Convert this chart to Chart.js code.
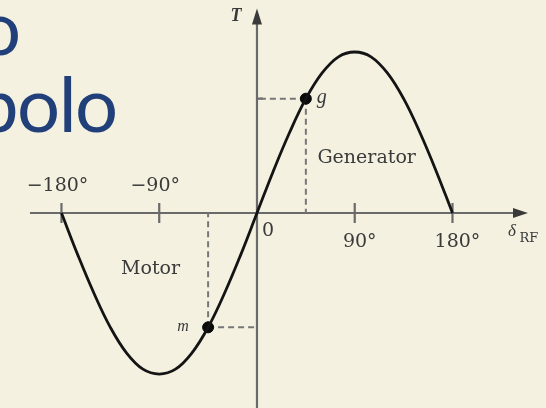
<!DOCTYPE html>
<html>
<head>
<meta charset="utf-8">
<script src="https://cdn.jsdelivr.net/npm/chart.js@4/dist/chart.umd.min.js"></script>
<style>
  html, body { margin: 0; padding: 0; background: #f4f1e1; }
  #wrap { width: 546px; height: 408px; }
</style>
</head>
<body>
<div id="wrap"><canvas id="myChart" width="546" height="408"></canvas></div>
<script>
// torque-angle curve, delta in degrees, torque normalised to the peak
const deltaDeg = [-180, -165, -150, -135, -120, -105, -90, -75, -60, -45, -30, -15, 0,
                  15, 30, 45, 60, 75, 90, 105, 120, 135, 150, 165, 180];
const torque = [0, -0.26, -0.5, -0.71, -0.87, -0.97, -1.0, -0.97, -0.87, -0.71, -0.5, -0.26, 0,
                0.26, 0.5, 0.71, 0.87, 0.97, 1.0, 0.97, 0.87, 0.71, 0.5, 0.26, 0];

// operating points (generator / motor)
const opDelta = [45, -45];
const opTorque = [0.71, -0.71];
const opNames = ['g', 'm'];

const tickDeg = [-180, -90, 0, 90, 180];
const tickLabels = ['\u2212180\u00b0', '\u221290\u00b0', '0', '90\u00b0', '180\u00b0'];
const regionNames = ['Generator', 'Motor'];
const headingLines = ['o', 'bolo'];

const figColor = '#6a6a6a';
const textColor = '#3a3a3a';
const serif = '"DejaVu Serif", "Liberation Serif", serif';
const italicSerif = '"Liberation Serif", serif';

const figurePlugin = {
    id: 'figure',
    beforeDraw(chart) {
        const { ctx, width, height } = chart;
        ctx.save();
        ctx.fillStyle = '#f4f1e1';
        ctx.fillRect(0, 0, width, height);
        // slide heading cut by the left edge
        ctx.fillStyle = '#213f79';
        ctx.font = '76px Lato';
        ctx.textBaseline = 'alphabetic';
        ctx.fillText(headingLines[0], -22, 55);
        ctx.letterSpacing = '-1.5px';
        ctx.fillText(headingLines[1], -24, 132);
        ctx.letterSpacing = '0px';
        ctx.restore();
        // the scanned figure is a little soft
        ctx.filter = 'blur(0.6px)';
    },
    beforeDatasetsDraw(chart) {
        const { ctx, scales: { x, y } } = chart;
        const x0 = x.getPixelForValue(0);
        const y0 = y.getPixelForValue(0);
        ctx.save();
        ctx.strokeStyle = figColor;
        ctx.fillStyle = '#3a3a3a';
        ctx.lineWidth = 2.2;

        // axes
        const xEnd = x.getPixelForValue(249.5);
        ctx.beginPath();
        ctx.moveTo(x.getPixelForValue(-209), y0);
        ctx.lineTo(xEnd - 6, y0);
        ctx.moveTo(x0, y.getPixelForValue(-1.4));
        ctx.lineTo(x0, y.getPixelForValue(1.27) + 8);
        ctx.stroke();
        ctx.beginPath();
        ctx.moveTo(xEnd, y0);
        ctx.lineTo(xEnd - 15, y0 - 5);
        ctx.lineTo(xEnd - 15, y0 + 5);
        ctx.closePath();
        ctx.fill();
        const yTop = y.getPixelForValue(1.27);
        ctx.beginPath();
        ctx.moveTo(x0, yTop);
        ctx.lineTo(x0 - 5, yTop + 16);
        ctx.lineTo(x0 + 5, yTop + 16);
        ctx.closePath();
        ctx.fill();

        // tick marks
        ctx.beginPath();
        tickDeg.forEach(d => {
            if (d === 0) return;
            const px = x.getPixelForValue(d);
            ctx.moveTo(px, y0 - 10);
            ctx.lineTo(px, y0 + 10);
        });
        const gy = y.getPixelForValue(opTorque[0]);
        ctx.moveTo(x0, gy);
        ctx.lineTo(x0 + 6, gy);
        ctx.stroke();

        // dashed guides from the operating points to the axes
        ctx.setLineDash([6, 4]);
        ctx.strokeStyle = '#777';
        ctx.lineWidth = 2;
        opDelta.forEach((d, i) => {
            const px = x.getPixelForValue(d);
            const py = y.getPixelForValue(opTorque[i]);
            ctx.beginPath();
            ctx.moveTo(px, py);
            ctx.lineTo(px, y0);
            ctx.moveTo(px, py);
            ctx.lineTo(x0, py);
            ctx.stroke();
        });
        ctx.setLineDash([]);
        ctx.restore();
    },
    afterDatasetsDraw(chart) {
        const { ctx, scales: { x, y } } = chart;
        const x0 = x.getPixelForValue(0);
        const y0 = y.getPixelForValue(0);
        ctx.save();
        ctx.fillStyle = textColor;
        ctx.textAlign = 'center';
        ctx.textBaseline = 'middle';

        ctx.font = '19px ' + serif;
        tickDeg.forEach((d, i) => {
            const px = x.getPixelForValue(d);
            if (d < 0) ctx.fillText(tickLabels[i], px - 4, y0 - 27);
            else if (d > 0) ctx.fillText(tickLabels[i], px + 5, y0 + 29);
            else ctx.fillText(tickLabels[i], px + 11, y0 + 18);
        });

        // axis names
        ctx.font = 'italic bold 18px ' + italicSerif;
        ctx.fillText('T', x0 - 21, y.getPixelForValue(1.27) + 8);
        ctx.font = 'italic 17px ' + italicSerif;
        const tipX = x.getPixelForValue(249.5);
        ctx.fillText('\u03b4', tipX - 16, y0 + 19);
        ctx.font = '13px ' + serif;
        ctx.fillText('RF', tipX + 1, y0 + 26);

        // region names
        ctx.font = '19px ' + serif;
        ctx.fillText(regionNames[0], x.getPixelForValue(101), y.getPixelForValue(0.34));
        ctx.fillText(regionNames[1], x.getPixelForValue(-98), y.getPixelForValue(-0.35));

        // operating point names
        ctx.font = 'italic 20px ' + italicSerif;
        ctx.fillText(opNames[0], x.getPixelForValue(opDelta[0]) + 16, y.getPixelForValue(opTorque[0]) - 1);
        ctx.font = 'italic 16px ' + italicSerif;
        ctx.fillText(opNames[1], x.getPixelForValue(opDelta[1]) - 25, y.getPixelForValue(opTorque[1]) - 1);
        ctx.restore();
    },
    afterDraw(chart) {
        chart.ctx.filter = 'none';
    }
};

const ctx = document.getElementById('myChart').getContext('2d');
const chart = new Chart(ctx, {
    type: 'scatter',
    data: {
        datasets: [{
            data: deltaDeg.map((d, i) => ({ x: d, y: torque[i] })),
            showLine: true,
            borderColor: '#141414',
            borderWidth: 2.8,
            pointRadius: 0,
            tension: 0.4
        }, {
            data: opDelta.map((d, i) => ({ x: d, y: opTorque[i] })),
            showLine: false,
            pointRadius: 5.5,
            backgroundColor: '#0a0a0a',
            borderColor: '#0a0a0a'
        }]
    },
    options: {
        responsive: false,
        animation: false,
        devicePixelRatio: 1,
        layout: { padding: 0, autoPadding: false },
        plugins: { legend: { display: false }, tooltip: { enabled: false } },
        scales: {
            x: { type: 'linear', display: false, min: -236.6, max: 266.1 },
            y: { type: 'linear', display: false, min: -1.211, max: 1.323 }
        }
    },
    plugins: [figurePlugin]
});
</script>
</body>
</html>
